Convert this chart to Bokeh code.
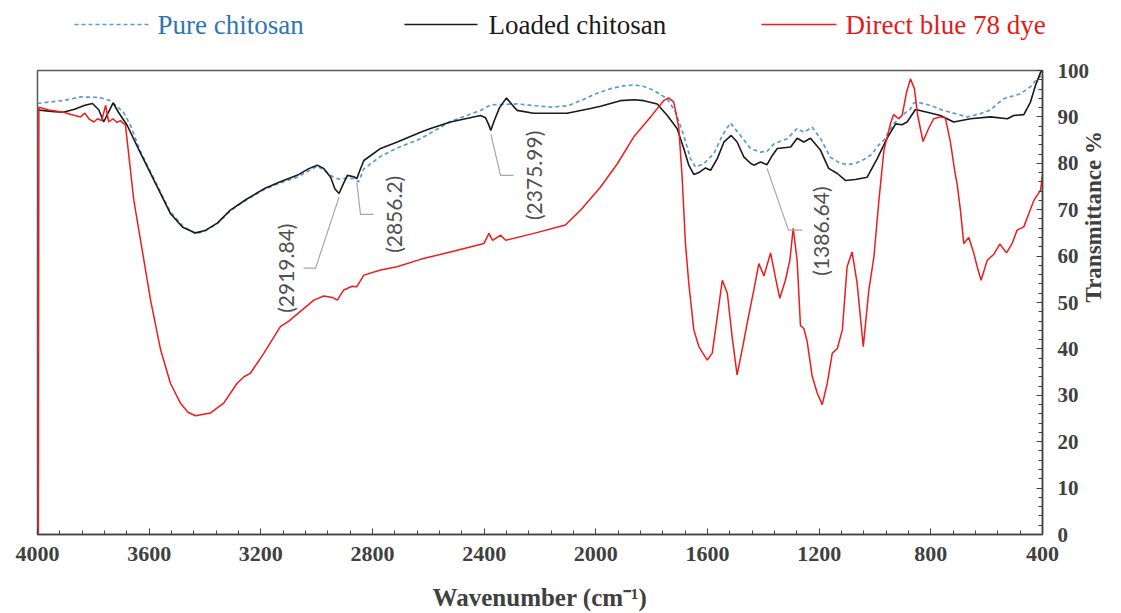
import math
import numpy as np
from bokeh.plotting import figure
from bokeh.layouts import column
from bokeh.models import Range1d, FixedTicker, Label
from bokeh.embed import file_html
from bokeh.resources import INLINE

# ---- FTIR spectra: wavenumber (cm-1) and transmittance (%) ----
pure_wn = [4000, 3900, 3846, 3780, 3738, 3692, 3667, 3631, 3571, 3524, 3480, 3434,
           3400, 3356, 3309, 3250, 3189, 3130, 3070, 2998, 2975, 2940, 2920, 2890,
           2867, 2850, 2831, 2771, 2711, 2628, 2521, 2413, 2376, 2282, 2163, 2100,
           2043, 2000, 1947, 1900, 1864, 1830, 1792, 1744, 1714, 1685, 1661, 1643,
           1613, 1577, 1547, 1518, 1482, 1446, 1410, 1386, 1362, 1314, 1279, 1255,
           1225, 1195, 1160, 1130, 1100, 1070, 1040, 1010, 992, 968, 933, 900, 873,
           861, 849, 802, 760, 730, 670, 622, 586, 562, 539, 479, 443, 419, 400]
pure_t = [92.9, 93.6, 94.3, 94.2, 93.5, 91.0, 88.2, 82.5, 75.2, 69.5, 66.5, 64.8,
          65.4, 67.0, 69.8, 72.2, 74.3, 75.8, 77.0, 79.4, 78.6, 77.0, 76.6, 76.8,
          76.7, 76.0, 78.8, 81.5, 83.3, 85.3, 89.0, 91.4, 92.6, 92.8, 92.1, 92.4,
          93.8, 95.0, 96.1, 96.7, 96.9, 96.6, 95.7, 93.9, 91.0, 86.0, 81.0, 79.2,
          79.9, 82.1, 86.0, 88.7, 86.0, 83.2, 82.4, 82.6, 84.2, 85.3, 87.5, 86.7,
          87.8, 85.3, 81.3, 80.2, 79.7, 80.0, 80.8, 82.0, 83.6, 85.0, 88.5, 90.5, 91.7,
          93.0, 93.2, 92.5, 91.5, 91.0, 90.0, 90.7, 91.5, 92.8, 93.9, 95.0, 96.5, 98.2, 99.0]

loaded_wn = [4000, 3950, 3908, 3870, 3830, 3803, 3780, 3763, 3750, 3729, 3710, 3679,
             3631, 3571, 3524, 3480, 3434, 3400, 3356, 3309, 3250, 3189, 3130, 3070,
             3030, 2998, 2975, 2950, 2935, 2919.84, 2905, 2890, 2867, 2856.2, 2845,
             2831, 2771, 2711, 2628, 2592, 2521, 2413, 2395, 2385, 2375.99, 2365,
             2345, 2320, 2300, 2282, 2223, 2103, 2019, 1983, 1912, 1864, 1828, 1780,
             1744, 1709, 1685, 1667, 1649, 1631, 1607, 1589, 1565, 1541, 1515, 1494,
             1470, 1446, 1434, 1410, 1386.64, 1368, 1350, 1302, 1279, 1255, 1231,
             1195, 1166, 1135, 1106, 1070, 1028, 992, 956, 926, 903, 885, 855, 813,
             766, 718, 658, 586, 526, 503, 467, 443, 425, 407, 400]
loaded_t = [91.5, 91.2, 91.0, 91.6, 92.5, 92.9, 91.5, 88.9, 90.5, 93.0, 91.0, 88.2,
            82.2, 74.9, 69.2, 66.2, 65.0, 65.5, 67.1, 69.9, 72.3, 74.5, 76.0, 77.4,
            78.8, 79.6, 78.9, 77.0, 74.5, 73.5, 75.5, 77.4, 77.1, 76.7, 78.5,
            80.6, 83.2, 84.6, 86.7, 87.5, 88.9, 90.3, 89.8, 88.5, 87.1, 89.0,
            92.0, 94.1, 92.6, 91.4, 90.8, 90.8, 91.8, 92.3, 93.5, 93.7, 93.5, 92.8,
            90.3, 87.5, 83.2, 79.6, 77.6, 78.0, 79.0, 78.5, 81.0, 84.6, 86.0, 84.6,
            81.4, 80.0, 79.6, 80.3, 79.7, 81.7, 83.2, 83.5, 85.4, 84.6, 85.4,
            82.8, 78.9, 77.8, 76.3, 76.5, 77.0, 81.0, 85.5, 88.5, 88.3, 88.9, 91.6, 91.0,
            90.3, 88.9, 89.6, 90.0, 89.6, 90.3, 90.5, 93.2, 96.8, 99.6, 100.0]

dye_wn = [3997, 3995, 3960, 3906, 3880, 3846, 3830, 3815, 3798, 3785, 3770, 3756,
          3745, 3730, 3715, 3703, 3685, 3677, 3655, 3625, 3595, 3559, 3524, 3488,
          3460, 3434, 3380, 3333, 3285, 3260, 3237, 3189, 3130, 3100, 3070, 3010,
          2975, 2944, 2926, 2903, 2873, 2856, 2831, 2771, 2712, 2628, 2521, 2401,
          2383, 2370, 2341, 2323, 2222, 2109, 2055, 1983, 1923, 1864, 1804, 1757,
          1739, 1721, 1703, 1691, 1679, 1667, 1649, 1631, 1601, 1583, 1565, 1547,
          1529, 1512, 1494, 1476, 1458, 1434, 1416, 1398, 1374, 1357, 1341, 1321,
          1305, 1293, 1279, 1267, 1255, 1243, 1225, 1207, 1189, 1171, 1153, 1135,
          1117, 1100, 1082, 1064, 1042, 1022, 1004, 986, 968, 956, 943, 933, 915,
          903, 887, 873, 859, 847, 828, 808, 790, 766, 748, 730, 712, 706, 694, 682,
          664, 646, 634, 620, 598, 574, 553, 529, 509, 491, 467, 449, 431, 407, 400]
dye_t = [0.0, 92.1, 91.5, 91.0, 90.5, 90.0, 90.8, 89.5, 88.9, 89.6, 89.2, 92.5,
         88.9, 89.6, 88.8, 89.2, 88.2, 83.9, 72.0, 61.3, 50.5, 39.8, 32.6, 28.3,
         26.3, 25.6, 26.2, 28.3, 32.6, 34.0, 34.8, 39.1, 44.8, 46.0, 47.5, 50.5,
         51.4, 51.1, 50.5, 52.7, 53.5, 53.4, 55.9, 57.0, 57.7, 59.3, 60.9, 62.7,
         64.9, 63.4, 64.5, 63.4, 64.9, 66.7, 69.9, 74.9, 79.9, 85.7, 90.0, 93.5,
         94.1, 93.2, 87.8, 77.1, 62.7, 54.1, 44.1, 40.5, 37.6, 39.1, 46.9, 54.8,
         52.0, 42.7, 34.4, 39.8, 45.5, 52.7, 58.4, 55.7, 60.7, 55.5, 50.9, 54.8,
         59.1, 66.0, 59.1, 45.0, 44.4, 41.6, 34.1, 30.5, 28.0, 32.6, 39.1, 40.1,
         44.1, 57.7, 60.9, 54.1, 40.5, 52.7, 59.8, 72.0, 82.8, 85.7, 88.9, 90.5, 89.6,
         90.3, 95.3, 98.2, 96.1, 90.3, 84.7, 87.5, 89.6, 90.0, 89.8, 84.6, 77.4, 75.6, 69.9, 62.7,
         64.0, 60.6, 57.7, 54.8, 59.1, 60.4, 62.6, 60.7, 62.7, 65.6, 66.3, 69.2, 72.0, 74.2, 77.4]

# Labelled bands of the loaded chitosan spectrum
band_wn = [2919.84, 2856.2, 2375.99, 1386.64]

series_names = ["Pure chitosan", "Loaded chitosan", "Direct blue 78 dye"]

x_ticks = list(range(400, 4001, 400))
y_ticks = list(range(0, 101, 10))

# ---- styling ----
SERIF = "Liberation Serif"
PURE_LINE, PURE_TEXT = "#5B9BD5", "#2E75B6"
LOADED_LINE, LOADED_TEXT = "#1A1A1A", "#1A1A1A"
DYE_LINE, DYE_TEXT = "#EE1C1C", "#E31B1B"
AXIS_GREY = "#404040"

# ---- legend strip (drawn in its own pixel-space figure) ----
LEG_H = 45
leg = figure(width=1121, height=LEG_H, x_range=Range1d(0, 1121), y_range=Range1d(LEG_H, 0),
             x_axis_location=None, y_axis_location=None,
             min_border=0, output_backend="svg", toolbar_location=None)
leg.frame_align = False
leg.outline_line_color = None
leg.xgrid.visible = False
leg.ygrid.visible = False
leg_y = 24
leg_line_x0 = [74, 404, 761]
leg_line_x1 = [148, 477, 836]
leg_text_x = [157, 488, 845]
leg_line_colors = [PURE_LINE, LOADED_LINE, DYE_LINE]
leg_text_colors = [PURE_TEXT, LOADED_TEXT, DYE_TEXT]
leg_dashes = ["4 3", "solid", "solid"]
for x0, x1, tx, lc, tc, dash, name in zip(leg_line_x0, leg_line_x1, leg_text_x,
                                          leg_line_colors, leg_text_colors, leg_dashes,
                                          series_names):
    leg.segment(x0=[x0], y0=[leg_y], x1=[x1], y1=[leg_y], line_color=lc,
                line_width=1.7, line_dash=dash)
    leg.add_layout(Label(x=tx, y=leg_y, text=name, text_baseline="middle",
                         text_font=SERIF, text_font_size="27px", text_color=tc))

# ---- spectra ----
p = figure(width=1121, height=613 - LEG_H,
           x_range=Range1d(4000, 400), y_range=Range1d(0, 100),
           y_axis_location="right",
           min_border_left=37, min_border_right=79,
           min_border_top=70 - LEG_H, min_border_bottom=78,
           output_backend="svg", toolbar_location=None)
p.frame_align = False

p.background_fill_color = "white"
p.border_fill_color = "white"
p.outline_line_color = "#595959"
p.outline_line_width = 1.5
p.xgrid.visible = False
p.ygrid.visible = False

# x axis
xa = p.xaxis[0]
xa.ticker = FixedTicker(ticks=x_ticks, minor_ticks=list(range(400, 4001, 80)))
xa.axis_line_color = AXIS_GREY
xa.axis_line_width = 1.5
xa.major_tick_line_color = AXIS_GREY
xa.minor_tick_line_color = AXIS_GREY
xa.major_tick_in, xa.major_tick_out = 6, 0
xa.minor_tick_in, xa.minor_tick_out = 4, 0
xa.major_label_standoff = 12
xa.major_label_text_font = SERIF
xa.major_label_text_font_style = "bold"
xa.major_label_text_font_size = "22px"
xa.major_label_text_color = AXIS_GREY
xa.axis_label = "Wavenumber (cm\u207b\u00b9)"
xa.axis_label_text_font = SERIF
xa.axis_label_text_font_style = "bold"
xa.axis_label_text_font_size = "25px"
xa.axis_label_text_color = AXIS_GREY
xa.axis_label_standoff = 20

# y axis (right), title reading bottom to top
ya = p.yaxis[0]
ya.ticker = FixedTicker(ticks=y_ticks, minor_ticks=list(range(0, 101, 2)))
ya.axis_line_color = AXIS_GREY
ya.axis_line_width = 1.5
ya.major_tick_line_color = AXIS_GREY
ya.minor_tick_line_color = AXIS_GREY
ya.major_tick_in, ya.major_tick_out = 6, 0
ya.minor_tick_in, ya.minor_tick_out = 4, 0
ya.major_label_standoff = 15
ya.major_label_text_font = SERIF
ya.major_label_text_font_style = "bold"
ya.major_label_text_font_size = "21px"
ya.major_label_text_color = AXIS_GREY
ya.axis_label = "Transmittance %"
ya.axis_label_orientation = math.pi / 2
ya.axis_label_standoff = 1
ya.axis_label_text_font = SERIF
ya.axis_label_text_font_style = "bold"
ya.axis_label_text_font_size = "23px"
ya.axis_label_text_color = AXIS_GREY

p.line(pure_wn, pure_t, line_color=PURE_LINE, line_width=1.7, line_dash="4 3")
p.line(loaded_wn, loaded_t, line_color=LOADED_LINE, line_width=1.6)
p.line(dye_wn, dye_t, line_color=DYE_LINE, line_width=1.5)

# band call-outs: leader from the band to an elbow, then a short horizontal tick
lw_asc = np.array(loaded_wn[::-1], dtype=float)
lt_asc = np.array(loaded_t[::-1], dtype=float)
elbows = [(3004, 57.4, 3047), (2843, 69.0, 2796), (2341.5, 77.4, 2295), (1310, 65.6, 1260)]
label_pos = [(3112, 57.4), (2725, 69.0), (2223, 77.4), (1195, 65.4)]
for wn, (ex, ey, hx), (lx, ly) in zip(band_wn, elbows, label_pos):
    y0 = float(np.interp(wn, lw_asc, lt_asc)) - 0.8
    p.line([wn, ex, hx], [y0, ey, ey], line_color="#A6A6A6", line_width=1.2)
    p.add_layout(Label(x=lx, y=ly, text=f"({wn})", angle=math.pi / 2,
                       text_align="center", text_baseline="middle",
                       text_font="Lato", text_font_size="21px",
                       text_color="#505050"))

open("out.html", "w").write(file_html(column(leg, p, spacing=0), INLINE))
